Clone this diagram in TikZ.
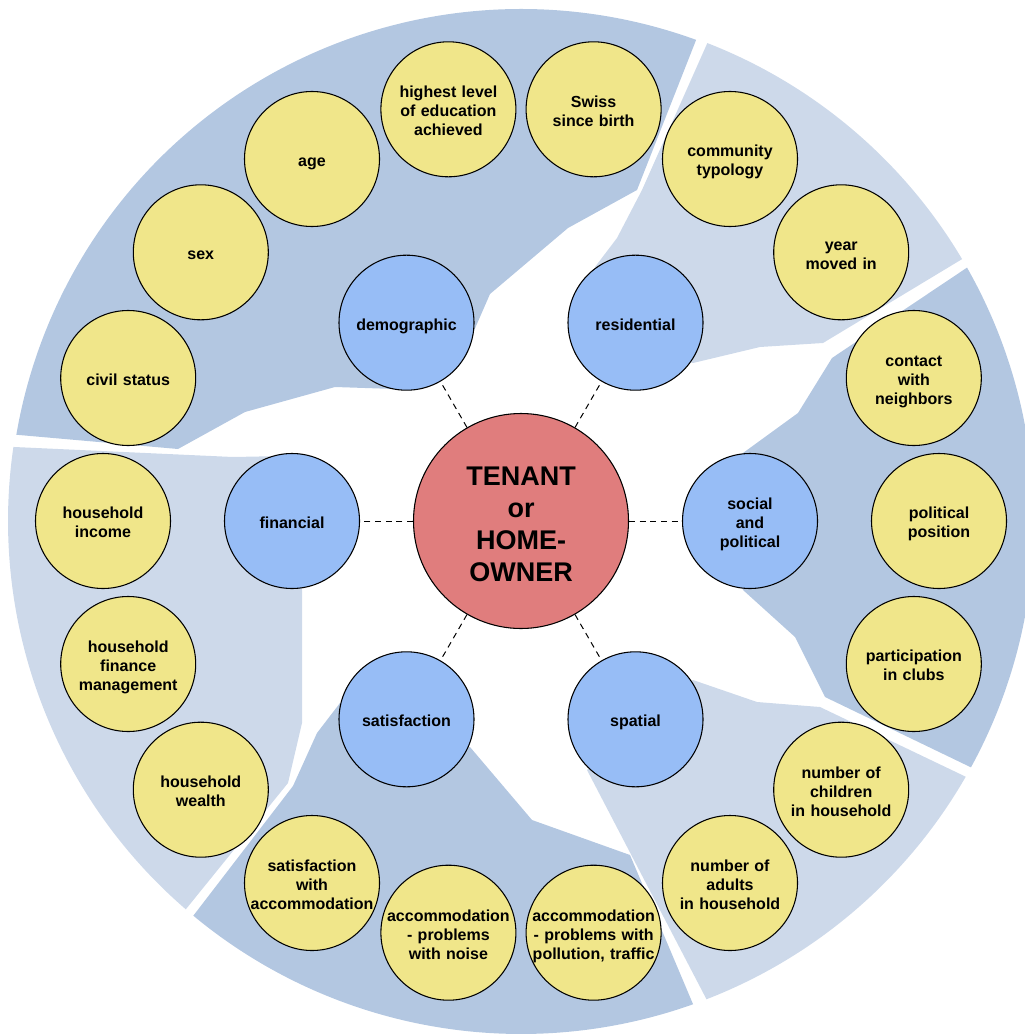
\documentclass[tikz,border=0pt]{standalone}
\usepackage{fontspec}
\setmainfont{Liberation Sans}
\usepackage{tikz}

\definecolor{secdark}{RGB}{179,199,225}
\definecolor{seclight}{RGB}{205,217,234}
\definecolor{leafyellow}{RGB}{240,230,138}
\definecolor{branchblue}{RGB}{151,189,246}
\definecolor{hubred}{RGB}{224,125,125}

\tikzset{
  linebox/.style={execute at begin node={\rule{0pt}{1.13em}}, execute at end node={\rule[-0.212em]{0pt}{0.212em}}},
  leaf/.style={circle, draw, line width=0.8pt, fill=leafyellow, minimum size=101.25pt, inner sep=-1pt, text width=94pt, align=center, linebox, font=\bfseries\fontsize{12}{14.25}\selectfont},
  branch/.style={leaf, fill=branchblue},
  hub/.style={circle, draw, line width=0.8pt, fill=hubred, minimum size=161.25pt, inner sep=0pt, text width=90pt, align=center, linebox, font=\bfseries\fontsize{20.25}{24}\selectfont},
  spoke/.style={line width=0.75pt, dash pattern={on 4.5pt off 3.5pt}}
}

\begin{document}
\begin{tikzpicture}[x=0.75pt,y=0.75pt,yscale=-1,xscale=1]
\useasboundingbox (0,0) rectangle (1024,1034);

%Shape: Sector demographic
\fill [secdark] (521,521) ++(-70:512) arc [start angle=-70, end angle=-170.3, radius=512] -- (178,449) -- (245,412) -- (335,387) -- (395,389) -- (430,380) -- (473,333) -- (490,294) -- (568,228) -- (637,190) -- cycle ;
%Shape: Sector residential
\fill [seclight] (521,521) ++(-68.7:513) arc [start angle=-68.7, end angle=-30.7, radius=513] -- (823,343) -- (760,347) -- (693,363) -- (620,340) -- (595,267) -- (617,238) -- (642,190) -- cycle ;
%Shape: Sector social and political
\fill [secdark] (521,521) ++(-29.6:513) arc [start angle=-29.6, end angle=28.7, radius=513] -- (825,697) -- (795,637) -- (743,590) -- (725,521) -- (743,453) -- (798,413) -- (832,358) -- cycle ;
%Shape: Sector spatial
\fill [seclight] (521,521) ++(29.9:513) arc [start angle=29.9, end angle=68.8, radius=513] -- (587,770) -- (625,735) -- (693,680) -- (757,702) -- (820,707) -- cycle ;
%Shape: Sector satisfaction
\fill [secdark] (521,521) ++(70.4:513) arc [start angle=70.4, end angle=129.7, radius=513] -- (293,786) -- (317,733) -- (340,703) -- (405,760) -- (470,747) -- (532,820) -- (630,855) -- cycle ;
%Shape: Sector financial
\fill [seclight] (521,521) ++(-171.7:513) arc [start angle=-171.7, end angle=-229.2, radius=513] -- (288,783) -- (302,723) -- (302,590) -- (292,521) -- (285,456) -- (233,457) -- cycle ;

% Hub
\node [hub] (owner) at (521,521) {TENANT\\or\\HOME-\\OWNER};

% Branches
\node [branch] (demo) at (406.5,322.7) {demographic};
\node [branch] (resid) at (635.5,322.7) {residential};
\node [branch] (social) at (750,521) {social\\and\\political};
\node [branch] (spatial) at (635.5,719.3) {spatial};
\node [branch] (satis) at (406.5,719.3) {satisfaction};
\node [branch] (financ) at (292,521) {financial};

% Leaves
\node [leaf] (civil) at (128.2,378) {civil status};
\node [leaf] (sex) at (200.8,252.3) {sex};
\node [leaf] (age) at (312,159) {age};
\node [leaf] (educ) at (448.4,109.3) {highest level\\of education\\achieved};
\node [leaf] (swiss) at (593.6,109.3) {Swiss\\since birth};
\node [leaf] (commun) at (730,159) {community\\typology};
\node [leaf] (movedin) at (841.2,252.3) {year\\moved in};
\node [leaf] (contact) at (913.8,378) {contact\\with\\neighbors};
\node [leaf] (politic) at (939,521) {political\\position};
\node [leaf] (clubs) at (913.8,664) {participation\\in clubs};
\node [leaf] (children) at (841.2,789.7) {number of\\children\\in household};
\node [leaf] (adults) at (730,883) {number of\\adults\\in household};
\node [leaf] (pollut) at (593.6,932.7) {accommodation\\- problems with\\pollution, traffic};
\node [leaf] (noise) at (448.4,932.7) {accommodation\\- problems\\with noise};
\node [leaf] (satacc) at (312,883) {satisfaction\\with\\accommodation};
\node [leaf] (wealth) at (200.8,789.7) {household\\wealth};
\node [leaf] (finmgmt) at (128.2,664) {household\\finance\\management};
\node [leaf] (income) at (103,521) {household\\income};

%Straight Lines: hub to branches
\draw [spoke] (owner) -- (demo) ;
\draw [spoke] (owner) -- (resid) ;
\draw [spoke] (owner) -- (social) ;
\draw [spoke] (owner) -- (spatial) ;
\draw [spoke] (owner) -- (satis) ;
\draw [spoke] (owner) -- (financ) ;

\end{tikzpicture}
\end{document}
